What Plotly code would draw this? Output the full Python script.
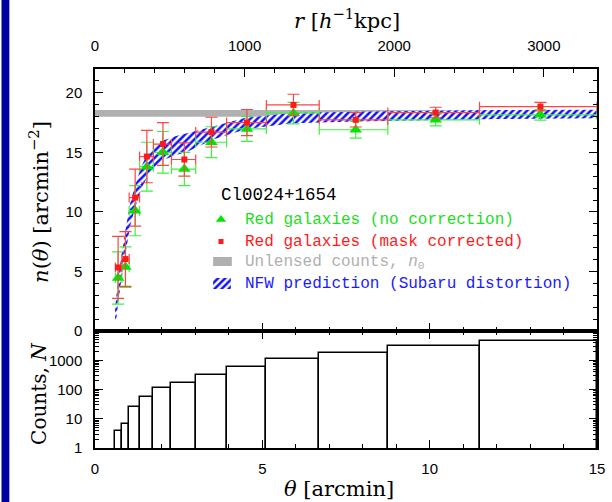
import plotly.graph_objects as go

# ---------------- data ----------------
theta_pts = [0.69, 0.91, 1.20, 1.55, 2.03, 2.67, 3.48, 4.54, 5.93, 7.79, 10.18, 13.31]
bin_edges = [0.609, 0.803, 1.021, 1.332, 1.744, 2.285, 3.009, 3.932, 5.12, 6.70, 8.75, 11.49, 15.0]
n_green = [4.45, 5.37, 10.1, 13.8, 15.0, 13.6, 15.85, 16.97, 18.29, 16.9, 17.73, 18.15]
err_green = [2.2, 1.7, 2.1, 2.05, 1.75, 1.4, 1.3, 1.05, 0.9, 0.7, 0.5, 0.45]
n_red = [5.34, 6.04, 11.2, 14.65, 15.7, 14.4, 16.7, 17.5, 18.98, 17.73, 18.34, 18.84]
err_red = [2.6, 2.3, 2.4, 2.2, 1.8, 1.4, 1.25, 1.1, 0.9, 0.6, 0.45, 0.35]
counts = [3.7, 6.7, 25.7, 57.6, 112, 165, 325, 595, 1117, 1747, 3098, 4592]

n0_lo, n0_hi = 18.0, 18.55
n0_x = [0, 15]

nfw_theta = [0.60, 0.64, 0.69, 0.74, 0.83, 0.93, 1.05, 1.21, 1.38, 1.57, 1.80, 2.04, 2.40, 2.79, 3.5, 4.5, 5.9, 7.8, 10.0, 12.0, 15.0]
nfw_lo = [0.9, 1.1, 2.3, 3.45, 5.2, 6.8, 8.8, 10.45, 11.9, 13.0, 13.8, 14.35, 14.75, 15.1, 16.05, 16.95, 17.45, 17.6, 17.73, 17.8, 17.87]
nfw_hi = [1.9, 3.2, 4.3, 5.4, 7.2, 8.8, 10.7, 12.3, 13.8, 14.9, 15.55, 16.0, 16.35, 16.65, 17.15, 17.9, 18.3, 18.4, 18.5, 18.55, 18.57]

r_per_arcmin = 223.7  # h^-1 kpc per arcmin
theta_max = 15.0

legend_labels = ["Red galaxies (no correction)", "Red galaxies (mask corrected)",
                 "Unlensed counts, <i>n</i><sub>0</sub>", "NFW prediction (Subaru distortion)"]

# ---------------- derived ----------------
xerr_plus = [bin_edges[i + 1] - t for i, t in enumerate(theta_pts)]
xerr_minus = [t - bin_edges[i] for i, t in enumerate(theta_pts)]
bar_centers = [(bin_edges[i] + bin_edges[i + 1]) / 2 for i in range(len(counts))]
bar_widths = [bin_edges[i + 1] - bin_edges[i] for i in range(len(counts))]

GREEN = "#00e600"
GREEN_T = "#22dd22"
RED = "#ff1a1a"
GRAY = "#b0b0b0"
BLUE = "#1a1aff"
SERIF = "DejaVu Serif"
SANS = "Liberation Sans"
MONO = "Liberation Mono"
HATCH = dict(shape="/", fgcolor="#1010ff", bgcolor="white", size=5, solidity=0.5, fgopacity=1)

fig = go.Figure()

# unlensed counts band
fig.add_trace(go.Scatter(
    x=n0_x + n0_x[::-1], y=[n0_lo] * 2 + [n0_hi] * 2,
    fill="toself", fillcolor=GRAY, line=dict(width=0), mode="lines",
    showlegend=False, xaxis="x", yaxis="y", hoverinfo="skip"))

# NFW prediction band (hatched)
fig.add_trace(go.Scatter(
    x=nfw_theta + nfw_theta[::-1], y=nfw_lo + nfw_hi[::-1],
    fill="toself", mode="lines", line=dict(width=0),
    fillcolor="white", fillpattern=HATCH,
    showlegend=False, xaxis="x", yaxis="y", hoverinfo="skip"))

# green: no correction
fig.add_trace(go.Scatter(
    x=theta_pts, y=n_green, mode="markers",
    marker=dict(symbol="triangle-up", size=11, color=GREEN),
    error_y=dict(type="data", array=err_green, color="#44ee44", thickness=1.2, width=6),
    error_x=dict(type="data", array=xerr_plus, arrayminus=xerr_minus, symmetric=False,
                 color="#44ee44", thickness=1.2, width=5),
    showlegend=False, xaxis="x", yaxis="y"))

# red: mask corrected
fig.add_trace(go.Scatter(
    x=theta_pts, y=n_red, mode="markers",
    marker=dict(symbol="square", size=6, color=RED),
    error_y=dict(type="data", array=err_red, color="#ff4444", thickness=1.2, width=6),
    error_x=dict(type="data", array=xerr_plus, arrayminus=xerr_minus, symmetric=False,
                 color="#ff4444", thickness=1.2, width=5),
    showlegend=False, xaxis="x", yaxis="y"))

# counts histogram
fig.add_trace(go.Bar(
    x=bar_centers, y=counts, width=bar_widths,
    marker=dict(color="white", line=dict(color="black", width=1.5)),
    showlegend=False, xaxis="x2", yaxis="y2"))

# dummy trace for the r axis
fig.add_trace(go.Scatter(x=[0, theta_max * r_per_arcmin], y=[None, None], mode="markers",
                         showlegend=False, xaxis="x3", yaxis="y", hoverinfo="skip"))

# ---------- hand-made legend keys (pixel-like overlay axis x4/y4) ----------
fig.add_trace(go.Scatter(x=[223], y=[219.5], mode="markers",
                         marker=dict(symbol="triangle-up", size=9, color=GREEN),
                         showlegend=False, xaxis="x4", yaxis="y4", hoverinfo="skip"))
fig.add_trace(go.Scatter(x=[223], y=[241.5], mode="markers",
                         marker=dict(symbol="square", size=5, color=RED),
                         showlegend=False, xaxis="x4", yaxis="y4", hoverinfo="skip"))
fig.add_trace(go.Scatter(x=[215, 234, 234, 215], y=[257, 257, 266, 266], mode="lines",
                         fill="toself", fillcolor=GRAY, line=dict(width=0),
                         showlegend=False, xaxis="x4", yaxis="y4", hoverinfo="skip"))
fig.add_trace(go.Scatter(x=[215, 233, 233, 215], y=[278, 278, 289, 289], mode="lines",
                         fill="toself", fillcolor="white", fillpattern=HATCH, line=dict(width=0),
                         showlegend=False, xaxis="x4", yaxis="y4", hoverinfo="skip"))

leg_colors = [GREEN_T, RED, GRAY, BLUE]
leg_y = [219.5, 241.5, 262, 283.5]

split = (448 - 331) / 379.0
axis_common = dict(showline=True, linecolor="black", linewidth=1.5, ticks="inside",
                   tickcolor="black", tickwidth=1.2, showgrid=False, zeroline=False,
                   tickfont=dict(family=SANS, size=15, color="black"))

fig.update_layout(
    width=612, height=502,
    margin=dict(l=95, r=7, t=69, b=54),
    paper_bgcolor="white", plot_bgcolor="white",
    bargap=0, showlegend=False,
    xaxis=dict(**axis_common, domain=[0, 1], anchor="y", range=[0, theta_max], dtick=5,
               ticklen=8, minor=dict(dtick=1, ticklen=4, ticks="inside", tickcolor="black"),
               showticklabels=False, mirror=True),
    xaxis3=dict(**axis_common, overlaying="x", side="top", anchor="y",
                range=[0, theta_max * r_per_arcmin], dtick=1000, ticklen=8,
                minor=dict(dtick=200, ticklen=4, ticks="inside", tickcolor="black"),
                ticklabelstandoff=10),
    xaxis4=dict(overlaying="x", anchor="y4", range=[95, 605], visible=False),
    yaxis4=dict(overlaying="y", anchor="x4", range=[331, 69], visible=False),
    yaxis=dict(**axis_common, domain=[split, 1], anchor="x", range=[0, 22], dtick=5,
               ticklen=8, minor=dict(dtick=1, ticklen=4, ticks="inside", tickcolor="black"),
               mirror="ticks", ticklabelstandoff=8),
    xaxis2=dict(**axis_common, domain=[0, 1], anchor="y2", range=[0, theta_max], dtick=5,
                ticklen=8, minor=dict(dtick=1, ticklen=4, ticks="inside", tickcolor="black"),
                mirror="ticks", ticklabelstandoff=6),
    yaxis2=dict(**axis_common, domain=[0, split], anchor="x2", type="log", range=[0, 4],
                tickvals=[1, 10, 100, 1000], ticktext=["1", "10", "100", "1000"],
                ticklen=8, mirror="ticks", ticklabelstandoff=8,
                minor=dict(tickvals=[m * 10 ** d for d in range(4) for m in range(2, 10)],
                           ticklen=4, ticks="inside", tickcolor="black")),
)

for lab, col, yy in zip(legend_labels, leg_colors, leg_y):
    fig.add_annotation(xref="x4", yref="y4", x=245, y=yy, text=lab, showarrow=False,
                       xanchor="left", yanchor="middle",
                       font=dict(family=MONO, size=16, color=col))

ann_font = dict(family=SERIF, size=21, color="black")
fig.add_annotation(xref="paper", yref="paper", x=(38 - 95) / 510, y=(448 - 202) / 379,
                   text="<i>n</i>(<i>θ</i>) [arcmin<sup>−2</sup>]", textangle=-90,
                   showarrow=False, font=ann_font, xanchor="center", yanchor="middle")
fig.add_annotation(xref="paper", yref="paper", x=(38 - 95) / 510, y=(448 - 393) / 379,
                   text="Counts, <i>N</i>", textangle=-90,
                   showarrow=False, font=dict(family=SERIF, size=20, color="black"),
                   xanchor="center", yanchor="middle")
fig.add_annotation(xref="paper", yref="paper", x=(343 - 95) / 510, y=(448 - 489) / 379,
                   text="<i>θ</i> [arcmin]", showarrow=False, font=ann_font,
                   xanchor="center", yanchor="middle")
fig.add_annotation(xref="paper", yref="paper", x=(351 - 95) / 510, y=(448 - 19) / 379,
                   text="<i>r</i> [<i>h</i><sup>−1</sup>kpc]", showarrow=False, font=ann_font,
                   xanchor="center", yanchor="middle")
fig.add_annotation(xref="x4", yref="y4", x=221, y=195,
                   text="Cl0024+1654", showarrow=False,
                   font=dict(family=MONO, size=17.5, color="black"),
                   xanchor="left", yanchor="middle")

# blue strip at left edge of the slide
fig.add_shape(type="rect", xref="paper", yref="paper",
              x0=-95 / 510, x1=(8 - 95) / 510, y0=-54 / 379, y1=448 / 379,
              fillcolor="#0000a0", line=dict(width=0), layer="above")

fig.write_html("out.html")
